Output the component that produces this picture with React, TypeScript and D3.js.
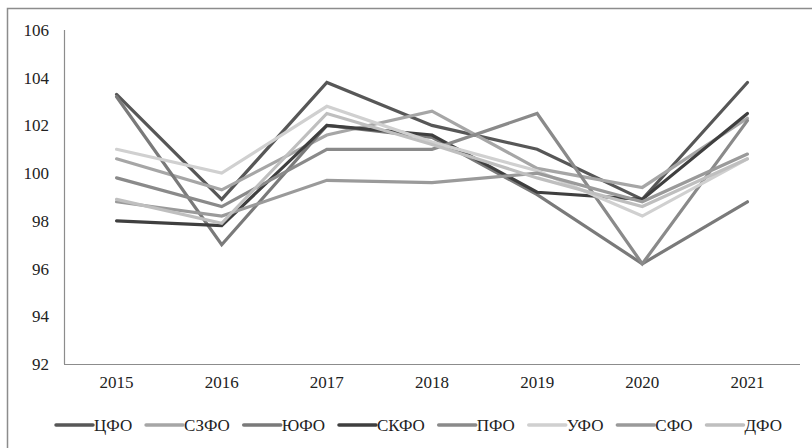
import React, { useEffect, useRef } from "react";
import * as d3 from "d3";

const years = ["2015", "2016", "2017", "2018", "2019", "2020", "2021"];
const yTicks = [92, 94, 96, 98, 100, 102, 104, 106];

const seriesNames = ["ЦФО", "СЗФО", "ЮФО", "СКФО", "ПФО", "УФО", "СФО", "ДФО"];
const seriesColors = ["#575757", "#a6a6a6", "#7a7a7a", "#3f3f3f", "#8a8a8a", "#d0d0d0", "#9a9a9a", "#bfbfbf"];

const cfo = [103.3, 98.9, 103.8, 102.0, 101.0, 98.9, 103.8];
const szfo = [100.6, 99.3, 101.6, 102.6, 100.2, 99.4, 102.3];
const yufo = [103.2, 97.0, 102.0, 101.5, 99.1, 96.2, 98.8];
const skfo = [98.0, 97.8, 102.0, 101.6, 99.2, 98.9, 102.5];
const pfo = [99.8, 98.6, 101.0, 101.0, 102.5, 96.2, 102.2];
const ufo = [101.0, 100.0, 102.8, 101.3, 100.1, 98.2, 100.6];
const sfo = [98.8, 98.2, 99.7, 99.6, 100.0, 98.8, 100.8];
const dfo = [98.9, 97.9, 102.5, 101.2, 99.8, 98.6, 100.6];

const seriesValues = [cfo, szfo, yufo, skfo, pfo, ufo, sfo, dfo];

const W = 812;
const H = 448;
const FONT = "Liberation Serif, DejaVu Serif, serif";

export default function App() {
  const ref = useRef<SVGSVGElement | null>(null);

  useEffect(() => {
    const svg = d3.select(ref.current);
    svg.selectAll("*").remove();

    const left = 64, right = 800, top = 30, bottom = 364;

    svg.append("rect")
      .attr("x", 7.5).attr("y", 8.5)
      .attr("width", W + 10).attr("height", H + 10)
      .attr("fill", "#fff").attr("stroke", "#8c8c8c").attr("stroke-width", 1.5);

    const x = d3.scaleBand<string>().domain(years).range([left, right]);
    const y = d3.scaleLinear().domain([92, 106]).range([bottom, top]);

    svg.append("line").attr("x1", left + 0.5).attr("x2", left + 0.5)
      .attr("y1", top).attr("y2", bottom)
      .attr("stroke", "#8c8c8c").attr("stroke-width", 1.2);
    svg.append("line").attr("x1", left).attr("x2", right)
      .attr("y1", bottom + 0.5).attr("y2", bottom + 0.5)
      .attr("stroke", "#8c8c8c").attr("stroke-width", 1.2);

    svg.append("g").selectAll("text").data(yTicks).join("text")
      .attr("x", 49).attr("y", (d) => y(d))
      .attr("dy", "0.35em")
      .attr("text-anchor", "end")
      .style("font-family", FONT).style("font-size", "17px").attr("fill", "#222")
      .text((d) => String(d));

    svg.append("g").selectAll("text").data(years).join("text")
      .attr("x", (d) => (x(d) as number) + x.bandwidth() / 2)
      .attr("y", 382).attr("dy", "0.35em")
      .attr("text-anchor", "middle")
      .style("font-family", FONT).style("font-size", "17px").attr("fill", "#222")
      .text((d) => d);

    const line = d3.line<number>()
      .x((_, i) => (x(years[i]) as number) + x.bandwidth() / 2)
      .y((d) => y(d));

    const g = svg.append("g");
    seriesValues.forEach((vals, i) => {
      g.append("path")
        .attr("d", line(vals) as string)
        .attr("fill", "none")
        .attr("stroke", seriesColors[i])
        .attr("stroke-width", 3.2)
        .attr("stroke-linejoin", "miter")
        .attr("stroke-linecap", "round");
    });

    // legend: measured text, spread over the span
    const lg = svg.append("g");
    const lineLen = 37;
    const gap = 1;
    const legendY = 425;
    const startX = 56;
    const endX = 782;
    const texts = seriesNames.map((name) =>
      lg.append("text")
        .attr("dy", "0.35em").attr("y", legendY)
        .style("font-family", FONT).style("font-size", "17px").attr("fill", "#222")
        .text(name)
    );
    const widths = texts.map((t) => (t.node() as SVGTextElement).getComputedTextLength());
    const content = widths.reduce((a, b) => a + b, 0) + seriesNames.length * (lineLen + gap);
    const itemGap = (endX - startX - content) / (seriesNames.length - 1);
    let cx = startX;
    seriesNames.forEach((_, i) => {
      lg.append("line")
        .attr("x1", cx).attr("x2", cx + lineLen)
        .attr("y1", legendY).attr("y2", legendY)
        .attr("stroke", seriesColors[i]).attr("stroke-width", 3.5)
        .attr("stroke-linecap", "round");
      texts[i].attr("x", cx + lineLen + gap);
      cx += lineLen + gap + widths[i] + itemGap;
    });
  }, []);

  return (
    <svg ref={ref} width={W} height={H} style={{ position: "absolute", left: 0, top: 0, background: "#fff" }} />
  );
}
